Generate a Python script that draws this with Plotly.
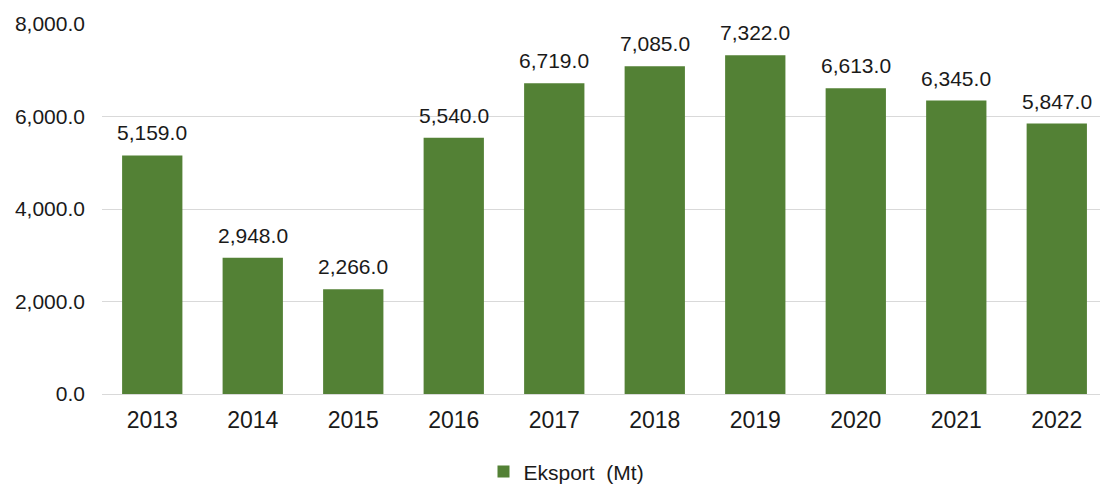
import plotly.graph_objects as go

# Annual export volume (Mt)
years = ["2013", "2014", "2015", "2016", "2017", "2018", "2019", "2020", "2021", "2022"]
eksport = [5159.0, 2948.0, 2266.0, 5540.0, 6719.0, 7085.0, 7322.0, 6613.0, 6345.0, 5847.0]
y_ticks = [0, 2000, 4000, 6000, 8000]
y_tick_labels = ["0.0", "2,000.0", "4,000.0", "6,000.0", "8,000.0"]

FONT = "Liberation Sans, Arial, sans-serif"
GREEN = "#538135"
GRID = "#d9d9d9"
TEXT = "#1a1a1a"

fig = go.Figure()
fig.add_trace(go.Bar(
    x=years,
    y=eksport,
    name="Eksport\u00a0 (Mt)",
    marker=dict(color=GREEN, line=dict(width=0)),
))

# Value labels above each bar (category position by index)
for i, v in enumerate(eksport):
    fig.add_annotation(
        xref="x", yref="y",
        x=i, y=v, text=f"{v:,.1f}",
        showarrow=False, yanchor="bottom", yshift=9,
        font=dict(family=FONT, size=21, color=TEXT),
    )

fig.update_layout(
    width=1100,
    height=487,
    margin=dict(l=102, r=0, t=24, b=93),
    paper_bgcolor="white",
    plot_bgcolor="white",
    bargap=0.4,
    font=dict(family=FONT, color=TEXT),
    showlegend=True,
    legend=dict(
        orientation="h",
        xref="container", yref="container",
        x=0.515, xanchor="center",
        y=0.031, yanchor="middle",
        font=dict(family=FONT, size=21, color=TEXT),
    ),
    xaxis=dict(
        type="category",
        range=[-0.5, 9.43],
        showgrid=False,
        showline=False,
        ticks="",
        tickfont=dict(family=FONT, size=23, color=TEXT),
        ticklabelstandoff=10,
    ),
    yaxis=dict(
        range=[0, 8000],
        tickvals=y_ticks,
        ticktext=y_tick_labels,
        showgrid=True,
        gridcolor=GRID,
        gridwidth=1,
        zeroline=True,
        zerolinecolor=GRID,
        zerolinewidth=1,
        showline=False,
        ticks="",
        tickfont=dict(family=FONT, size=21, color=TEXT),
        ticklabelstandoff=16,
    ),
)

fig.write_html("out.html")
